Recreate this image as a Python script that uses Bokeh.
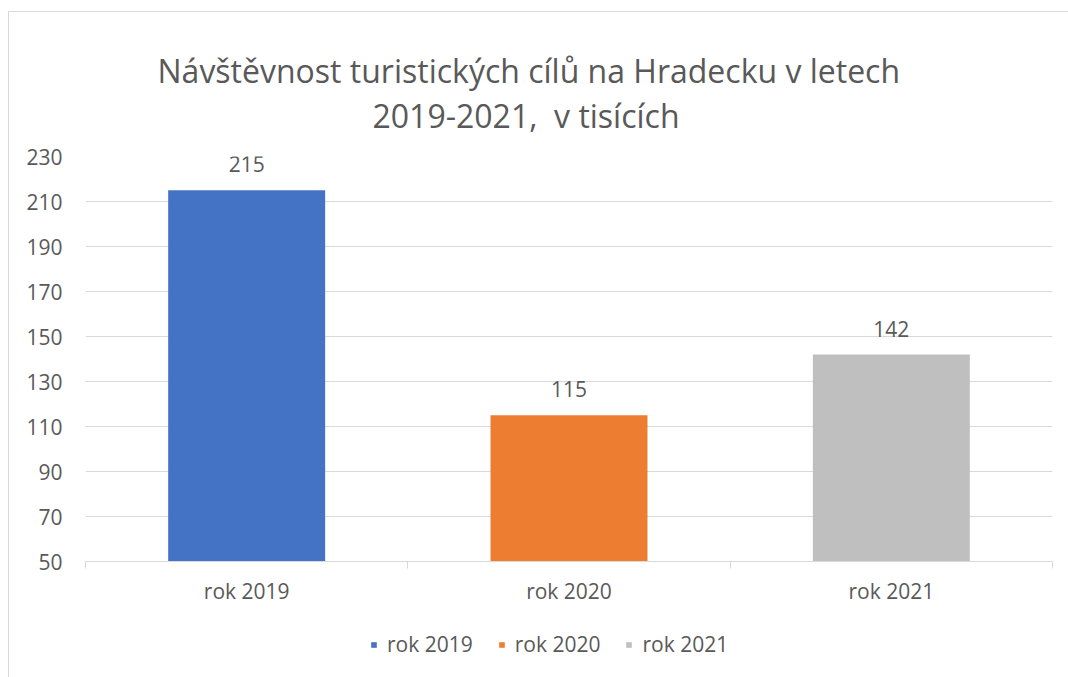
from bokeh.plotting import figure
from bokeh.layouts import column
from bokeh.models import (Range1d, FixedTicker, LinearAxis, Title, LabelSet,
                          ColumnDataSource, Legend, LegendItem, Grid)
from bokeh.embed import file_html
from bokeh.resources import INLINE
from bokeh.core.properties import value
import numpy as np

# ---- data ----
categories = ["rok 2019", "rok 2020", "rok 2021"]
visitors = [215, 115, 142]
colors = ["#4472C4", "#ED7D31", "#BFBFBF"]
y_ticks = [50, 70, 90, 110, 130, 150, 170, 190, 210, 230]
title_lines = ["Návštěvnost turistických cílů na Hradecku v letech",
               "2019-2021,\u00a0 v tisících"]

FONT = "Open Sans"
TXT = "#595959"
GRID = "#D9D9D9"
W = 1059
H_MAIN, H_LEG = 605, 60

xpos = list(np.arange(len(categories)) + 0.5)
src = ColumnDataSource(dict(x=xpos, top=visitors, color=colors,
                            label=[str(v) for v in visitors]))

p = figure(width=W, height=H_MAIN, x_range=Range1d(0, len(categories)),
           y_range=Range1d(y_ticks[0], y_ticks[-1]),
           output_backend="svg", toolbar_location=None,
           x_axis_location=None, y_axis_location=None,
           min_border_left=76, min_border_right=16,
           min_border_top=144, min_border_bottom=56)
for g in list(p.grid):
    g.visible = False
p.outline_line_color = None
p.background_fill_color = "white"
p.border_fill_color = "white"

yticker = FixedTicker(ticks=y_ticks)
p.add_layout(Grid(dimension=1, ticker=yticker, grid_line_color=GRID, grid_line_width=1))

r = p.vbar(x="x", top="top", bottom=y_ticks[0], width=0.487, fill_color="color",
           line_color=None, source=src)

# x axis
xticker = FixedTicker(ticks=xpos, minor_ticks=list(range(len(categories) + 1)))
xaxis = LinearAxis(ticker=xticker,
                   major_label_overrides={float(xv): c for xv, c in zip(xpos, categories)})
xaxis.axis_line_color = GRID
xaxis.major_tick_line_color = None
xaxis.major_tick_out = 0
xaxis.major_tick_in = 0
xaxis.minor_tick_line_color = GRID
xaxis.minor_tick_in = 0
xaxis.minor_tick_out = 7
xaxis.major_label_standoff = 8
xaxis.major_label_text_font = FONT
xaxis.major_label_text_font_size = "21px"
xaxis.major_label_text_color = TXT
p.add_layout(xaxis, "below")

yaxis = LinearAxis(ticker=yticker)
yaxis.axis_line_color = None
yaxis.major_tick_line_color = None
yaxis.minor_tick_line_color = None
yaxis.major_tick_out = 0
yaxis.major_tick_in = 0
yaxis.major_label_standoff = 23
yaxis.major_label_text_font = FONT
yaxis.major_label_text_font_size = "21px"
yaxis.major_label_text_color = TXT
p.add_layout(yaxis, "left")

labels = LabelSet(x="x", y="top", text="label", source=src, y_offset=18,
                  text_align="center", text_baseline="alphabetic",
                  text_font=value(FONT), text_font_size="21px", text_color=TXT)
p.add_layout(labels)

# title: two lines, closest-to-frame first
for line, off, so in [(title_lines[1], 287, 40), (title_lines[0], 72, -40)]:
    p.add_layout(Title(text=line, align="left", offset=off, standoff=so,
                       text_font=FONT, text_font_size="32px",
                       text_font_style="normal", text_color=TXT), "above")

# legend strip below the chart
pl = figure(width=W, height=H_LEG, x_range=Range1d(0, 1), y_range=Range1d(0, 1),
            output_backend="svg", toolbar_location=None,
            x_axis_location=None, y_axis_location=None,
            min_border=0)
for g in list(pl.grid):
    g.visible = False
pl.outline_line_color = None
pl.border_fill_color = "white"
rl = pl.vbar(x="x", top="top", bottom=y_ticks[0], width=0.487, fill_color="color",
             line_color=None, source=src, visible=False)
legend = Legend(items=[LegendItem(label=c, renderers=[rl], index=i)
                       for i, c in enumerate(categories)],
                orientation="horizontal", location=(285, 19),
                glyph_width=7, glyph_height=7, label_standoff=10, spacing=25,
                padding=0, margin=0, border_line_color=None,
                background_fill_alpha=0, inactive_fill_alpha=0,
                label_text_font=FONT, label_text_font_size="21px",
                label_text_color=TXT)
pl.add_layout(legend)

layout = column(p, pl, spacing=0,
                styles={"margin-left": "8px", "margin-top": "11px",
                        "border-left": "1px solid #D9D9D9",
                        "border-top": "1px solid #D9D9D9"})

open("out.html", "w").write(file_html(layout, INLINE))
